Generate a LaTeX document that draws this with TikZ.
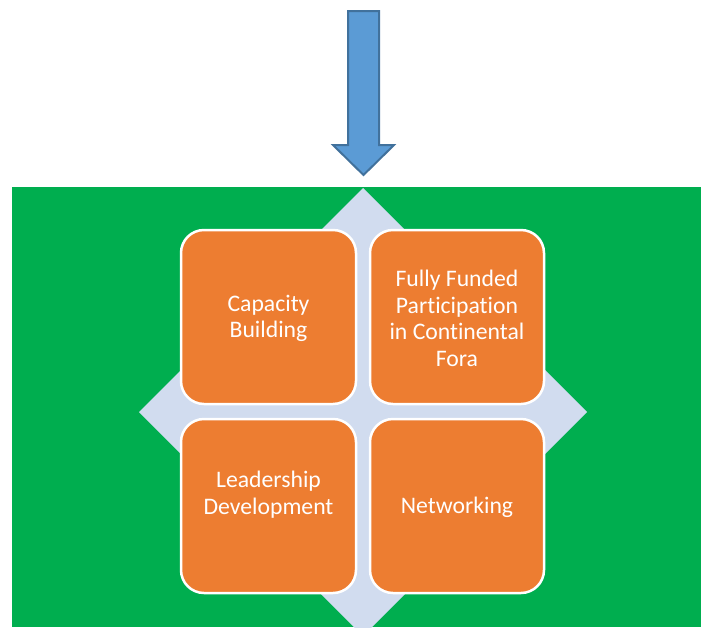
\documentclass[tikz,border=0pt]{standalone}
\usepackage{fontspec}
\setmainfont[RawFeature={-liga;-clig;-calt;-dlig}]{Carlito}
\definecolor{greenbg}{HTML}{00AE4F}
\definecolor{diamondc}{HTML}{D1DCEF}
\definecolor{orangebox}{HTML}{ED7D31}
\definecolor{arrowfill}{HTML}{5B9BD5}
\definecolor{arrowline}{HTML}{41719C}
\begin{document}
\begin{tikzpicture}[x=1pt,y=-1pt,
  tile/.style={draw=white, line width=2.5pt, fill=orangebox, rounded corners=23pt},
  tiletext/.style={text=white, align=center, font=\fontsize{23.7}{26.7}\selectfont, inner sep=0pt}]
\useasboundingbox (0,0) rectangle (701,627);
\clip (0,0) rectangle (701,627);
% arrow
\draw[fill=arrowfill, draw=arrowline, line width=2pt, line join=miter]
  (348,11) -- (379,11) -- (379,145) -- (394,145) -- (363.5,175) -- (333,145) -- (348,145) -- cycle;
% background
\fill[greenbg] (12,187) rectangle (701,627);
\coordinate (dc) at (363,412);
\fill[diamondc] (363,188) -- (587,412) -- (363,636) -- (139,412) -- cycle;
% tiles
\draw[tile] (181,230) rectangle (356,404);
\draw[tile] (370,230) rectangle (544,404);
\draw[tile] (181,419) rectangle (356,593);
\draw[tile] (370,419) rectangle (544,593);
\node[tiletext] (t1) at (268.5,318.5) {Capacity\\Building};
\node[tiletext] (t2) at (457,318.5) {Fully Funded\\Participation\\in Continental\\Fora};
\node[tiletext] (t3) at (268.5,494.5) {Leadership\\Development};
\node[tiletext] (t4) at (457,507.5) {Networking};
\end{tikzpicture}
\end{document}
